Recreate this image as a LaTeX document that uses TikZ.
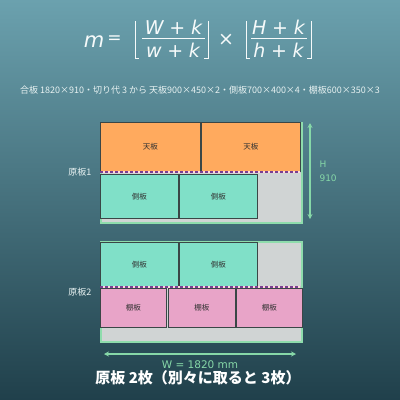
\documentclass[tikz,border=0pt]{standalone}
\usepackage{fontspec}
\setmainfont{Noto Sans CJK JP}
\newfontfamily\fsans{DejaVu Sans}
\usetikzlibrary{arrows.meta}
\definecolor{bgtop}{HTML}{6BA1AE}
\definecolor{bgbot}{HTML}{20404B}
\definecolor{sheetfill}{HTML}{D0D4D4}
\definecolor{sheetedge}{HTML}{8EDCAC}
\definecolor{orangep}{HTML}{FFAA5E}
\definecolor{tealp}{HTML}{80E0C8}
\definecolor{pinkp}{HTML}{E8A4C8}
\definecolor{edgec}{HTML}{3A4646}
\definecolor{txtc}{HTML}{333333}
\definecolor{cutc}{HTML}{7A3E92}
\definecolor{dimc}{HTML}{86D8A8}
\definecolor{lbl}{HTML}{E8F2F2}
\definecolor{fml}{HTML}{F6FAFA}
\newcommand\fsp{\hspace{0.3em}}
\tikzset{
  sheet/.style={draw=sheetedge, fill=sheetfill, line width=2pt, inner sep=0pt, anchor=north west, minimum width=201pt, minimum height=100pt},
  pc/.style={draw=edgec, line width=0.8pt, inner sep=0pt, anchor=north west, text=txtc, font=\fontsize{7.5}{9}\selectfont},
  tenb/.style={pc, fill=orangep, minimum height=49pt},
  sokub/.style={pc, fill=tealp, minimum width=78pt, minimum height=44pt},
  tanab/.style={pc, fill=pinkp, minimum height=39pt},
  cutline/.style={draw=cutc, line width=2pt, dash pattern=on 3pt off 2pt},
  cutbase/.style={draw=pink!60!white, line width=2pt},
  dimarrow/.style={draw=dimc, line width=1.6pt, {Stealth[length=5pt,width=5pt]}-{Stealth[length=5pt,width=5pt]}},
  sheetlbl/.style={anchor=east, text=lbl, font=\fontsize{9}{11}\selectfont},
  dimlbl/.style={text=dimc, font=\fsans\fontsize{9}{14}\selectfont},
  fterm/.style={text=fml, inner sep=0pt, anchor=base, font=\fsans\fontsize{19}{20}\selectfont},
  fline/.style={draw=fml, line width=1pt}
}
\begin{document}
\begin{tikzpicture}[x=1pt,y=-1pt]
\useasboundingbox (0,0) rectangle (400,400);
\shade[top color=bgtop, bottom color=bgbot] (0,0) rectangle (400,400);

% formula
\node[fterm, font=\fsans\itshape\fontsize{21}{22}\selectfont] (fm) at (94,47) {m};
\node[fterm, anchor=center, font=\fsans\fontsize{17}{18}\selectfont] (feq) at (114.5,40) {=};
\draw[fline] (135,21) -- (135,58) -- (139,58);
\node[fterm] (n1) at (173.5,34) {\itshape W\fsp+\fsp k};
\draw[fline] (142,38) -- (205,38);
\node[fterm] (d1) at (173,57) {\itshape w\fsp+\fsp k};
\draw[fline] (208,21) -- (208,58) -- (204,58);
\node[fterm, anchor=center] (ftimes) at (226,40) {×};
\draw[fline] (246,21) -- (246,58) -- (250,58);
\node[fterm] (n2) at (278.5,34) {\itshape H\fsp+\fsp k};
\draw[fline] (251,38) -- (307,38);
\node[fterm] (d2) at (278.5,57) {\itshape h\fsp+\fsp k};
\draw[fline] (311,21) -- (311,58) -- (307,58);

\node[text=lbl, font=\fontsize{9}{10}\selectfont] (sub) at (200,90) {合板 1820×910・切り代 3 から 天板900×450×2・側板700×400×4・棚板600×350×3};

% sheet 1
\node[sheet] (s1) at (100,122) {};
\node[tenb, minimum width=100pt] (t1) at (100,122) {天板};
\node[tenb, minimum width=99pt] (t2) at (201,122) {天板};
\coordinate (c1a) at (100,172);
\coordinate (c1b) at (300,172);
\draw[cutbase] (c1a) -- (c1b);
\draw[cutline] (c1a) -- (c1b);
\node[sokub] (k1) at (100,174) {側板};
\node[sokub] (k2) at (179,174) {側板};
\node[sheetlbl] (l1) at (95,172) {原板1};

% H dimension
\coordinate (ha) at (310,123);
\coordinate (hb) at (310,219);
\draw[dimarrow] (ha) -- (hb);
\node[dimlbl, anchor=west, align=left] (hl) at (316,171) {H\\910};

% sheet 2
\node[sheet] (s2) at (100,241) {};
\node[sokub] (k3) at (100,242) {側板};
\node[sokub] (k4) at (179,242) {側板};
\coordinate (c2a) at (100,287);
\coordinate (c2b) at (300,287);
\draw[cutbase] (c2a) -- (c2b);
\draw[cutline] (c2a) -- (c2b);
\node[tanab, minimum width=66pt] (b1) at (100,288) {棚板};
\node[tanab, minimum width=67pt] (b2) at (168,288) {棚板};
\node[tanab, minimum width=66pt] (b3) at (236,288) {棚板};
\node[sheetlbl] (l2) at (95,292) {原板2};

% W dimension
\coordinate (wa) at (104,354);
\coordinate (wb) at (296,354);
\draw[dimarrow] (wa) -- (wb);
\node[dimlbl, font=\fsans\fontsize{10.5}{12}\selectfont] (wl) at (200,365) {W = 1820 mm};

\node[text=white, font=\fontsize{15}{16}\selectfont\bfseries] (title) at (198,378) {原板 2枚（別々に取ると 3枚）};
\end{tikzpicture}
\end{document}
